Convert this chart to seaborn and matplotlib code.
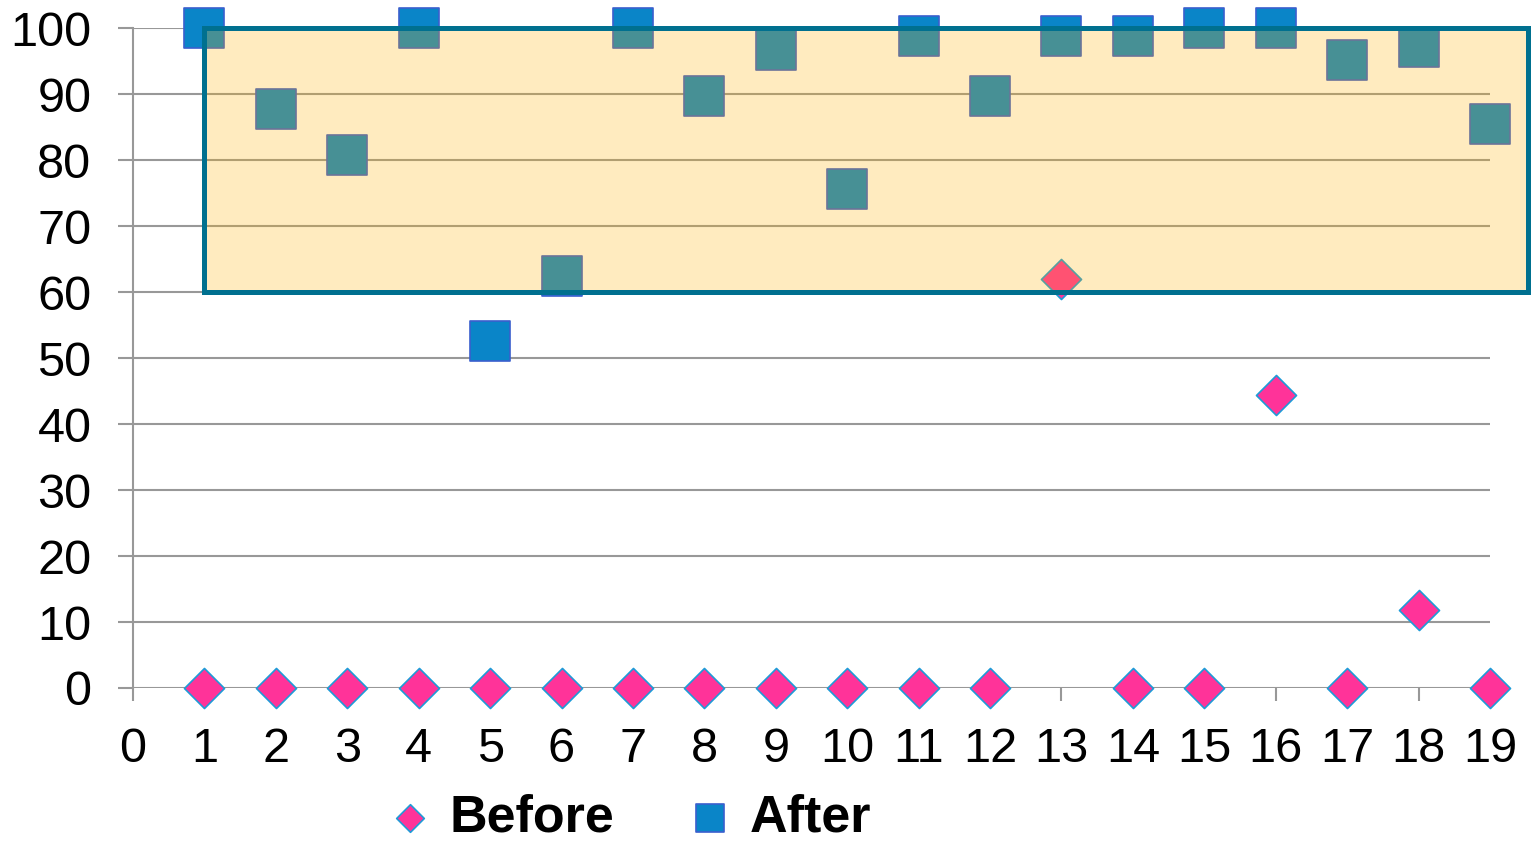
import matplotlib
matplotlib.use("Agg")
import matplotlib.pyplot as plt
from matplotlib.patches import Rectangle
import seaborn as sns
import pandas as pd

# Scores per participant
participants = list(range(1, 20))
before = [0, 0, 0, 0, 0, 0, 0, 0, 0, 0, 0, 0, 62, 0, 0, 44.4, 0, 11.8, 0]
before_x = [1, 2, 3, 4, 5, 6, 7, 8, 9, 10, 11, 12, 13, 14, 15, 16, 17, 18, 19]
after = [100, 87.7, 80.8, 100, 52.6, 62.4, 100, 89.7, 96.7, 75.6,
         98.8, 89.7, 98.8, 98.8, 100, 100, 95.1, 97.1, 85.5]
x_ticks = list(range(0, 20))
y_ticks = list(range(0, 101, 10))

df_before = pd.DataFrame({"x": before_x, "y": before})
df_after = pd.DataFrame({"x": participants, "y": after})

sns.set_theme(style="white")
plt.rcParams["font.family"] = ["Liberation Sans", "DejaVu Sans"]
plt.rcParams["text.color"] = "black"

fig = plt.figure(figsize=(15.31, 8.42), dpi=100)
ax = fig.add_axes([0.0869, 0.1829, 0.9732 - 0.0869, 0.9667 - 0.1829])

grid_col = "#989898"
for yv in y_ticks:
    ax.axhline(yv, color=grid_col, lw=1.5, zorder=1)

sns.scatterplot(data=df_before, x="x", y="y", ax=ax, marker="D", s=20.4 ** 2,
                color="#FF3399", edgecolor="#1E9BD7", linewidth=1.2,
                label="Before", zorder=3, clip_on=False)
sns.scatterplot(data=df_after, x="x", y="y", ax=ax, marker="s", s=29.5 ** 2,
                color="#0A85C8", edgecolor="#3A5FCD", linewidth=1.2,
                label="After", zorder=3, clip_on=False)

# highlighted target band (60-100)
band = Rectangle((1, 60), 18.53, 40, facecolor=(1.0, 0.698, 0.0, 0.25),
                 edgecolor="#00708F", linewidth=3.6, zorder=4, clip_on=False)
ax.add_patch(band)

ax.set_xlim(0, 19)
ax.set_ylim(0, 100)
ax.set_xticks(x_ticks)
ax.set_yticks(y_ticks)
ax.set_xlabel("")
ax.set_ylabel("")

for side in ["top", "right", "bottom"]:
    ax.spines[side].set_visible(False)
ax.spines["left"].set_color(grid_col)
ax.spines["left"].set_linewidth(1.5)

ax.tick_params(axis="y", which="major", direction="out", length=11, width=1.5,
               color=grid_col, labelcolor="black", labelsize=35, pad=19, left=True)
ax.tick_params(axis="x", which="major", direction="out", length=9, width=1.5,
               color=grid_col, labelcolor="black", labelsize=35, pad=19, bottom=True)

leg = ax.legend(loc="center", bbox_to_anchor=(630 / 1531, 1 - 818 / 842),
                bbox_transform=fig.transFigure, ncol=2, frameon=False,
                markerscale=0.69, handlelength=0.8, handletextpad=0.35,
                columnspacing=1.45, borderpad=0,
                prop={"weight": "bold", "size": 37.5})
for t in leg.get_texts():
    t.set_color("black")

fig.savefig("out.png", dpi=100)
